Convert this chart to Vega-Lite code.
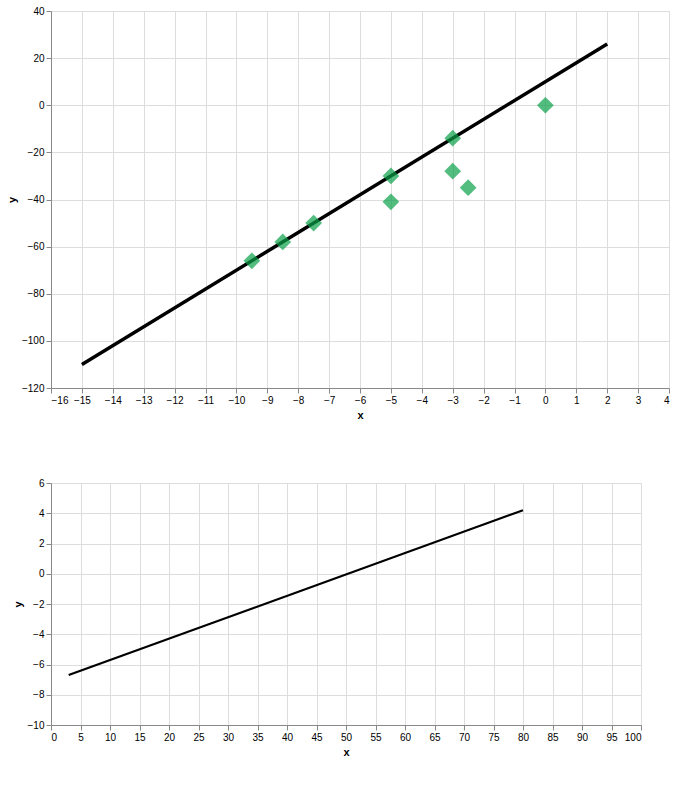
{
  "$schema": "https://vega.github.io/schema/vega-lite/v6.json",
  "background": "white",
  "padding": 5,
  "spacing": 56,
  "datasets": {
    "mwl": [{"x": -15, "y": -110}, {"x": 2, "y": 26}],
    "samples": [
      {"group": "seawater", "x": 0, "y": 0},
      {"group": "superficial", "x": -3, "y": -14},
      {"group": "aquifer", "x": -2.5, "y": -35},
      {"group": "aquifer", "x": -7.5, "y": -50},
      {"group": "aquifer", "x": -9.5, "y": -66},
      {"group": "mix", "x": -8.5, "y": -58},
      {"group": "mix", "x": -5, "y": -30},
      {"group": "mix", "x": -3, "y": -28},
      {"group": "mix", "x": -5, "y": -41}
    ],
    "solidB": [{"x": 3, "y": -6.7}, {"x": 80, "y": 4.2}]
  },
  "vconcat": [
    {
      "width": 618,
      "height": 377,
      "layer": [
        {
          "data": {"name": "mwl"},
          "mark": {"type": "line", "stroke": "black", "strokeWidth": 3.5},
          "encoding": {
            "x": {"field": "x", "type": "quantitative", "scale": {"domain": [-16, 4], "nice": false, "zero": false}},
            "y": {"field": "y", "type": "quantitative", "scale": {"domain": [-120, 40], "nice": false, "zero": false}}
          }
        },
        {
          "data": {"name": "samples"},
          "mark": {"type": "point", "shape": "diamond", "size": 280, "filled": true, "fill": "#0aa048"},
          "encoding": {"x": {"field": "x", "type": "quantitative"}, "y": {"field": "y", "type": "quantitative"}}
        }
      ]
    },
    {
      "width": 590,
      "height": 242,
      "layer": [
        {
          "data": {"name": "solidB"},
          "mark": {"type": "line", "stroke": "black", "strokeWidth": 2.2},
          "encoding": {
            "x": {"field": "x", "type": "quantitative", "scale": {"domain": [0, 100], "nice": false}},
            "y": {"field": "y", "type": "quantitative", "scale": {"domain": [-10, 6], "nice": false}}
          }
        }
      ]
    }
  ]
}
